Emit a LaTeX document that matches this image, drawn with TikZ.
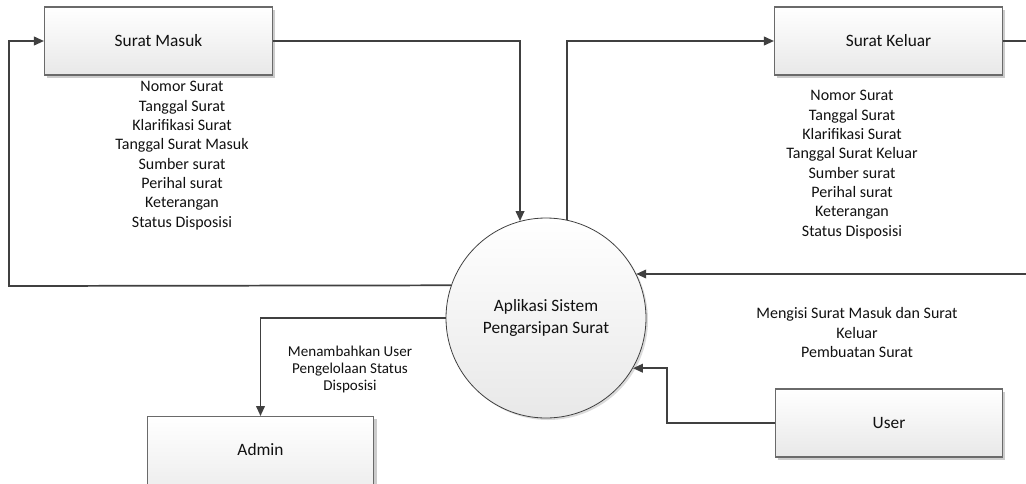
\documentclass[tikz,border=0pt]{standalone}
\usepackage{fontspec}
\setmainfont{Carlito}
\usetikzlibrary{arrows.meta,shadows,calc}
\definecolor{linec}{HTML}{404040}
\definecolor{boxc}{HTML}{6A6A6A}
\definecolor{fillb}{HTML}{E8E8E8}
\definecolor{txt}{HTML}{111111}
\tikzset{
  entity/.style={draw=boxc, line width=0.8pt, top color=white, bottom color=fillb,
    minimum width=171pt, minimum height=51pt, inner sep=0pt, text=txt,
    font=\fontsize{13}{15.6}\selectfont,
    drop shadow={shadow xshift=2pt, shadow yshift=-2pt, fill=black!25, opacity=0.8}},
  process/.style={circle, draw=linec, line width=0.6pt, top color=white, bottom color=fillb,
    minimum size=150pt, inner sep=0pt, text=txt, align=center,
    font=\fontsize{13}{16.5}\selectfont,
    drop shadow={shadow xshift=1.5pt, shadow yshift=-1.5pt, fill=black!20, opacity=0.7}},
  conn/.style={draw=linec, line width=1.3pt, -{Triangle[length=7.5pt,width=6.5pt]}},
  attr/.style={align=center, inner sep=0pt, text=txt, font=\fontsize{12}{14.5}\selectfont},
  attrs/.style={align=center, inner sep=0pt, text=txt, font=\fontsize{11.3}{13.1}\selectfont}
}
\begin{document}
\begin{tikzpicture}[x=0.75pt, y=-0.75pt]
\useasboundingbox (0,0) rectangle (1026,483);
% entities
\node[entity] (sm) at (158.5,41) {Surat Masuk};
\node[entity] (sk) at (888.5,41) {Surat Keluar};
\node[entity, minimum width=170pt] (us) at (889,423) {User};
\node[entity, minimum width=170pt, minimum height=0pt, text height=29.25pt, text depth=41.25pt, anchor=north] (ad) at (260.5,416) {Admin};
% process
\node[process] (c) at (546,318) {Aplikasi Sistem\\Pengarsipan Surat};
% labels
\node[attr] (l1) at (182,155.5) {Nomor Surat\\Tanggal Surat\\Klarifikasi Surat\\Tanggal Surat Masuk\\Sumber surat\\Perihal surat\\Keterangan\\Status Disposisi};
\node[attr] (l2) at (852,164.5) {Nomor Surat\\Tanggal Surat\\Klarifikasi Surat\\Tanggal Surat Keluar\\Sumber surat\\Perihal surat\\Keterangan\\Status Disposisi};
\node[attrs] (l3) at (350,369.5) {Menambahkan User\\Pengelolaan Status\\Disposisi};
\node[attr] (l4) at (857,332.5) {Mengisi Surat Masuk dan Surat\\Keluar\\Pembuatan Surat};
% helper coordinates
\coordinate (lp) at (9,286);
\coordinate (rp) at (1040,41);
% connectors
\draw[conn] (c.161.3) -- (lp) |- (sm.west);
\draw[conn] (sm.east) -| (c.105.7);
\draw[conn] (c.78.5) |- (sk.west);
\draw[conn] (sk.east) -- (rp) |- (c.26.1);
\draw[conn] (c.west) -| (ad.north);
\draw[conn] (us.west) -| ([xshift=25.8pt]c.-30) -- (c.-30);
\end{tikzpicture}
\end{document}
